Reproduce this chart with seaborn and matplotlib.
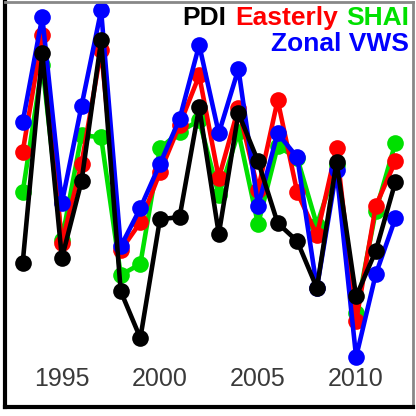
import numpy as np
import pandas as pd
import seaborn as sns
import matplotlib.pyplot as plt
from matplotlib.offsetbox import TextArea, HPacker, VPacker, AnchoredOffsetbox
from matplotlib.ticker import MultipleLocator

years = list(range(1993, 2013))

# standardized indices
pdi = [-0.51, 2.72, -0.43, 0.75, 2.92, -0.94, -1.66, 0.17, 0.20, 1.89,
       -0.06, 1.80, 1.06, 0.11, -0.17, -0.89, 1.05, -1.02, -0.32, 0.74]
easterly = [1.20, 3.00, -0.20, 1.02, 2.77, -0.31, 0.12, 0.89, 1.62, 2.38,
            0.80, 1.88, 0.62, 2.00, 0.58, -0.08, 1.26, -1.40, 0.37, 1.06]
shai = [0.58, 2.54, -0.15, 1.46, 1.43, -0.69, -0.52, 1.26, 1.51, 1.69,
        0.54, 1.51, 0.09, 1.29, 1.11, 0.08, 1.00, -1.28, 0.29, 1.34]
zonal_vws = [1.66, 3.28, 0.42, 1.91, 3.38, -0.25, 0.34, 1.02, 1.71, 2.85,
             1.49, 2.48, 0.37, 1.49, 1.12, -0.89, 0.92, -1.95, -0.68, 0.18]

names = ["SHAI", "Easterly", "Zonal VWS", "PDI"]
colors = {"PDI": "black", "Easterly": "#ff0000", "SHAI": "#00e000", "Zonal VWS": "#0000ff"}

df = pd.DataFrame({"year": years, "PDI": pdi, "Easterly": easterly,
                   "SHAI": shai, "Zonal VWS": zonal_vws})
long_df = df.melt(id_vars="year", var_name="index", value_name="value")

sns.set_style("white")
plt.rcParams["font.family"] = ["Liberation Sans", "DejaVu Sans"]

fig = plt.figure(figsize=(4.16, 4.16), dpi=100)
ax = fig.add_axes([5/416, 9/416, 408/416, 405/416])

sns.lineplot(data=long_df, x="year", y="value", hue="index", hue_order=names,
             palette=colors, marker="o", markersize=12, markeredgewidth=0,
             linewidth=3.3, legend=False, ax=ax)

ax.set_xlim(1992.1, 2012.9)
ax.set_ylim(-2.72, 3.51)
ax.set_xlabel("")
ax.set_ylabel("")
ax.set_yticks([])

ax.xaxis.set_major_locator(MultipleLocator(5))
ax.xaxis.set_minor_locator(MultipleLocator(1))
ax.tick_params(axis="x", which="major", direction="in", length=7, width=1.5,
               pad=-29, labelsize=18, labelcolor="#3a3a3a", color="black")
ax.tick_params(axis="x", which="minor", direction="in", length=3.5, width=1.5,
               color="black")

for side in ["left", "bottom"]:
    ax.spines[side].set_color("black")
    ax.spines[side].set_linewidth(3)
for side in ["top", "right"]:
    ax.spines[side].set_color("#888888")
    ax.spines[side].set_linewidth(2)

# coloured multi-word label block in the upper right
fp = dict(fontsize=19, fontweight="bold")
line1 = HPacker(children=[TextArea("PDI", textprops=dict(color="black", **fp)),
                          TextArea("Easterly", textprops=dict(color="#ff0000", **fp)),
                          TextArea("SHAI", textprops=dict(color="#00e000", **fp))],
                align="baseline", pad=0, sep=6)
line2 = TextArea("Zonal VWS", textprops=dict(color="#0000ff", **fp))
block = VPacker(children=[line1, line2], align="right", pad=0, sep=1)
anchored = AnchoredOffsetbox(loc="upper right", child=block, pad=0.1,
                             borderpad=0.2, frameon=False)
ax.add_artist(anchored)

fig.savefig("out.png", dpi=100)
